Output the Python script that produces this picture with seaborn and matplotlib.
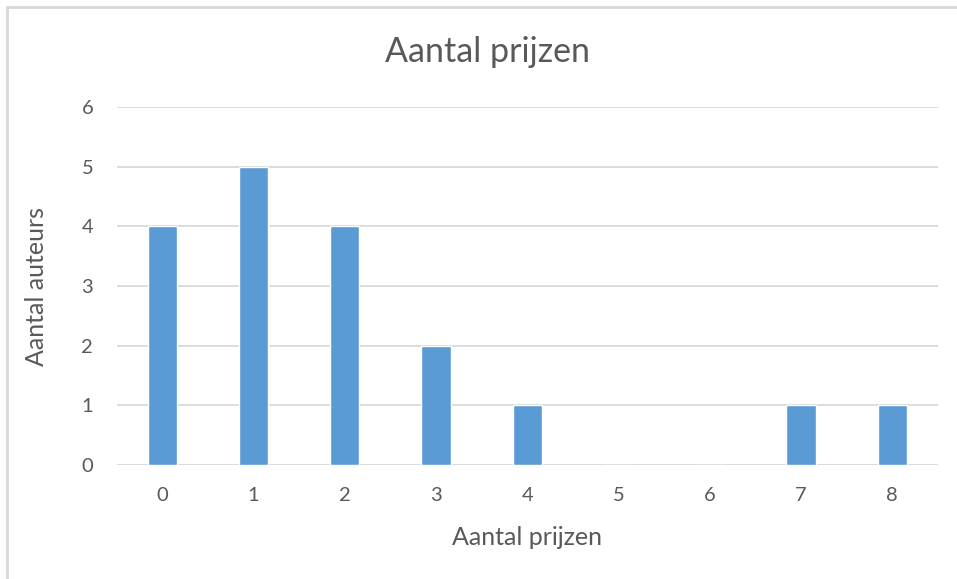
import pandas as pd
import matplotlib.pyplot as plt
from matplotlib.patches import Rectangle
import seaborn as sns

prijzen = ['0', '1', '2', '3', '4', '5', '6', '7', '8']
auteurs = [4, 5, 4, 2, 1, 0, 0, 1, 1]

df = pd.DataFrame({'prijzen': prijzen, 'auteurs': auteurs})

sns.set_style('white')
plt.rcParams['font.family'] = ['Lato', 'DejaVu Sans']
txt = '#595959'

fig = plt.figure(figsize=(9.57, 5.79), dpi=100)
ax = fig.add_axes([0.122, 0.197, 0.858, 0.618])

sns.barplot(data=df, x='prijzen', y='auteurs', color='#5B9BD5', width=0.32,
            saturation=1, ax=ax, zorder=3)

ax.set_ylim(0, 6)
ax.set_xlim(-0.5, 8.5)
ax.set_yticks(range(0, 7))
ax.yaxis.grid(True, color='#D9D9D9', linewidth=1.3, zorder=0)
ax.set_axisbelow(True)
for s in ax.spines.values():
    s.set_visible(False)
ax.tick_params(axis='both', length=0, labelsize=14.5, colors=txt)
ax.tick_params(axis='x', pad=16)
ax.tick_params(axis='y', pad=17)

ax.set_xlabel('Aantal prijzen', fontsize=18, color=txt, labelpad=16)
ax.set_ylabel('Aantal auteurs', fontsize=18, color=txt, labelpad=24)
fig.text(0.509, 0.91, 'Aantal prijzen', ha='center', va='center', fontsize=24.5, color=txt)

fig.patches.append(Rectangle((7 / 957, -0.1), 1.2, 1 - 7 / 579 + 0.1, transform=fig.transFigure,
                             fill=False, edgecolor='#D9D9D9', linewidth=2))

fig.savefig('out.png', dpi=100)
